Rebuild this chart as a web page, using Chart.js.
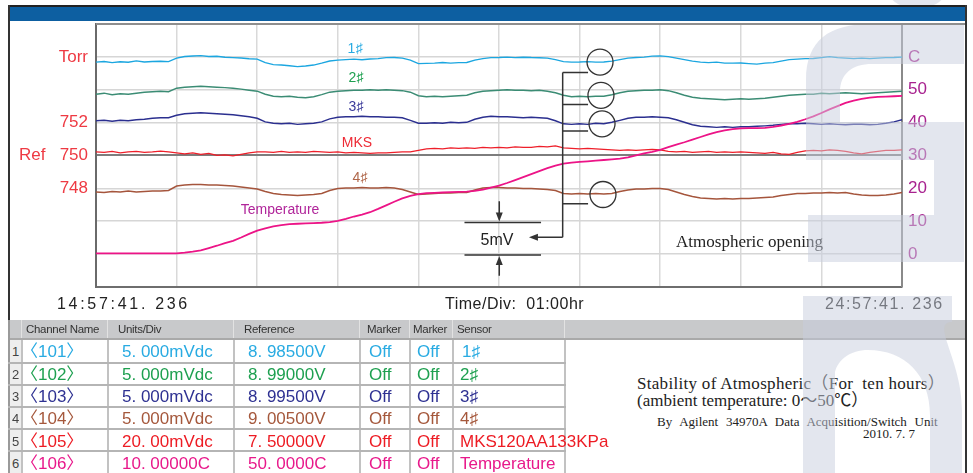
<!DOCTYPE html>
<html>
<head>
<meta charset="utf-8">
<script src="https://cdn.jsdelivr.net/npm/chart.js@4/dist/chart.umd.min.js"></script>
<style>
  body { margin: 0; background: #fff; }
  #page { position: relative; width: 973px; height: 473px; overflow: hidden; background: #fff;
          font-family: "Liberation Sans", Arial, sans-serif; }
  #page div, #page span { position: absolute; white-space: pre; }
  canvas { position: absolute; left: 0; top: 0; }
  .ln { background: #333; }
  .stamp { font-size: 16px; color: #222; letter-spacing: 2.7px; line-height: 16px; }
  .hd { font-size: 11.5px; color: #333; line-height: 19px; top: 320px; letter-spacing: -0.3px; }
  .cell { font-size: 17px; line-height: 20px; font-family: "Liberation Sans", "Noto Sans CJK SC", sans-serif; }
  .rn { font-size: 13px; color: #444; line-height: 20px; }
  .ttl { font-family: "Liberation Serif", "Noto Sans CJK SC", serif; color: #222; }
</style>
</head>
<body>
<div id="page">
  <canvas id="rec" width="973" height="305"></canvas>

  <div class="stamp" style="left:57px;top:296px">14:57:41. 236</div>
  <div class="stamp" style="left:445px;top:296px;letter-spacing:0.5px">Time/Div:  01:00hr</div>
  <div class="stamp" style="left:825px;top:296px;letter-spacing:1.6px">24:57:41. 236</div>

  <div id="table"></div>

  <div class="ttl" style="left:637px;top:374px;font-size:17px;line-height:20px;letter-spacing:0.3px">Stability of Atmospheric（For  ten hours）</div>
  <div class="ttl" style="left:637px;top:391px;font-size:17px;line-height:20px">(ambient temperature: 0～50℃）</div>
  <div class="ttl" style="left:657px;top:414px;font-size:13px;line-height:16px;word-spacing:4.5px">By Agilent 34970A Data Acquisition/Switch Unit</div>
  <div class="ttl" style="left:863px;top:426px;font-size:13px;line-height:16px">2010. 7. 7</div>

  <svg width="973" height="473" style="position:absolute;left:0;top:0;pointer-events:none">
    <g fill="rgba(200,205,222,0.5)">
      <ellipse cx="917" cy="-6" rx="27" ry="14"/>
      <path d="M806 160 L806 80 C806 40 830 24 870 24 L964 24 L964 64 L872 64 C852 64 840 74 840 92 L840 122 L964 122 L964 262 L808 262 L808 215 L934 215 L934 160 Z"/>
      <path d="M803 473 L803 296 L952 296 L952 322 C930 322 962 360 962 410 L962 473 L930 473 L930 415 C930 375 905 350 868 350 C850 350 838 360 835 372 L835 473 Z"/>
    </g>
  </svg>

  <div class="ln" style="left:8px;top:5px;width:959px;height:2px;background:#222"></div>
  <div style="left:8px;top:7px;width:959px;height:14px;background:#0d5fa1"></div>
  <div style="left:96px;top:23px;width:869px;height:2px;background:#8e8e8e"></div>
  <div class="ln" style="left:8px;top:5px;width:2px;height:315px"></div>
  <div class="ln" style="left:965px;top:5px;width:2px;height:468px"></div>
</div>

<script>
// time axis, minutes from 14:57:41
var times = [
  0, 6, 12, 18, 24, 30, 36, 42, 48, 54, 60, 66, 72, 78, 84, 90, 96, 102, 108, 114,
  120, 126, 132, 138, 144, 150, 156, 162, 168, 174, 180, 186, 192, 198, 204, 210, 216, 222, 228, 234,
  240, 246, 252, 258, 264, 270, 276, 282, 288, 294, 300, 306, 312, 318, 324, 330, 336, 342, 348, 354,
  360, 366, 372, 378, 384, 390, 396, 402, 408, 414, 420, 426, 432, 438, 444, 450, 456, 462, 468, 474,
  480, 486, 492, 498, 504, 510, 516, 522, 528, 534, 540, 546, 552, 558, 564, 570, 576, 582, 588, 594,
  600
];

// sensor readings, mV away from 9.000 V
var ch101 = [
  -0.80, -0.70, -0.88, -0.75, -0.82, -0.62, -0.78, -0.70, -0.66, -0.72,
  -0.20, 0.05, 0.12, 0.18, 0.06, 0.10, -0.05, -0.12, -0.18, -0.28,
  -0.35, -0.88, -1.18, -1.25, -1.35, -1.48, -1.40, -1.25, -0.96, -0.64,
  -0.50, -0.42, -0.35, -0.44, -0.33, -0.27, -0.12, -0.10, -0.19, -0.50,
  -1.03, -1.00, -0.95, -0.86, -0.96, -0.88, -0.85, -0.50, -0.27, -0.12,
  -0.10, -0.04, -0.12, -0.05, -0.11, -0.13, -0.19, -0.42, -0.73, -0.80,
  -0.78, -0.73, -0.81, -0.79, -0.65, -0.42, -0.19, -0.11, -0.04, 0.11,
  0.15, 0.04, -0.19, -0.42, -0.65, -0.80, -0.88, -0.80, -0.95, -0.96,
  -0.94, -1.03, -1.11, -0.95, -0.88, -0.65, -0.42, -0.34, -0.27, -0.26,
  -0.11, 0.04, -0.12, -0.19, -0.27, -0.19, -0.27, -0.19, -0.12, -0.11,
  -0.04
];
var ch102 = [
  -0.69, -0.53, -0.76, -0.61, -0.69, -0.53, -0.38, -0.31, -0.23, -0.31,
  0.23, 0.38, 0.46, 0.53, 0.46, 0.38, 0.31, 0.23, 0.08, -0.08,
  -0.23, -0.69, -0.99, -1.07, -0.99, -1.15, -1.22, -1.07, -0.76, -0.38,
  -0.23, -0.15, -0.08, -0.08, 0.00, -0.08, 0.00, -0.08, -0.15, -0.38,
  -0.92, -1.07, -0.99, -1.07, -0.99, -0.92, -0.84, -0.46, -0.23, -0.15,
  -0.08, 0.00, -0.08, -0.08, -0.15, -0.08, -0.23, -0.46, -0.84, -1.07,
  -0.99, -1.07, -0.99, -0.99, -0.76, -0.46, -0.23, -0.15, -0.08, -0.08,
  0.00, -0.15, -0.46, -0.84, -1.15, -1.30, -1.37, -1.45, -1.53, -1.45,
  -1.37, -1.45, -1.37, -1.30, -1.15, -0.99, -0.84, -0.76, -0.69, -0.69,
  -0.53, -0.61, -0.53, -0.46, -0.53, -0.61, -0.53, -0.46, -0.38, -0.31,
  -0.23
];
var ch103 = [
  0.27, 0.34, 0.19, 0.34, 0.27, 0.42, 0.50, 0.65, 0.73, 0.73,
  1.11, 1.34, 1.41, 1.49, 1.41, 1.34, 1.26, 1.18, 1.03, 0.88,
  0.65, 0.11, -0.11, -0.19, -0.11, -0.27, -0.19, -0.11, 0.11, 0.57,
  0.80, 0.88, 0.88, 0.95, 0.88, 0.88, 0.80, 0.80, 0.73, 0.34,
  -0.11, -0.11, -0.04, -0.11, 0.04, -0.04, 0.04, 0.50, 0.80, 0.95,
  0.88, 0.88, 0.80, 0.73, 0.80, 0.73, 0.65, 0.27, -0.19, -0.27,
  -0.19, -0.27, -0.11, -0.19, 0.04, 0.34, 0.65, 0.80, 0.80, 0.88,
  0.80, 0.73, 0.42, 0.04, -0.34, -0.57, -0.65, -0.73, -0.65, -0.73,
  -0.65, -0.65, -0.57, -0.50, -0.42, -0.27, -0.19, -0.19, -0.11, -0.19,
  -0.27, -0.19, -0.27, -0.34, -0.27, -0.27, -0.34, -0.27, -0.11, 0.11,
  0.42
];
var ch104 = [
  -0.57, -0.65, -0.50, -0.57, -0.42, -0.57, -0.50, -0.42, -0.42, -0.34,
  0.34, 0.50, 0.57, 0.57, 0.50, 0.50, 0.42, 0.34, 0.19, 0.04,
  -0.11, -0.50, -0.80, -0.95, -1.03, -1.11, -1.03, -0.95, -0.80, -0.34,
  -0.04, 0.04, 0.04, 0.11, 0.04, 0.04, 0.11, 0.04, -0.19, -0.57,
  -0.95, -0.88, -0.80, -0.73, -0.73, -0.65, -0.65, -0.27, 0.04, 0.11,
  0.11, 0.04, 0.04, -0.04, -0.04, -0.11, -0.19, -0.34, -0.80, -0.88,
  -0.80, -0.88, -0.80, -0.88, -0.80, -0.50, -0.27, -0.11, -0.11, -0.04,
  -0.04, -0.19, -0.57, -0.95, -1.26, -1.49, -1.56, -1.64, -1.56, -1.64,
  -1.56, -1.56, -1.49, -1.41, -1.34, -1.11, -0.95, -0.80, -0.80, -0.73,
  -0.73, -0.65, -0.73, -0.65, -0.88, -1.03, -1.11, -1.11, -1.03, -0.88,
  -0.65
];
// MKS gauge, Torr
var ch105 = [
  750.21, 750.18, 750.24, 750.15, 750.21, 750.24, 750.18, 750.21, 750.26, 750.21,
  750.15, 750.09, 750.15, 750.06, 750.12, 750.00, 750.03, 749.97, 750.06, 750.15,
  750.21, 750.21, 750.18, 750.24, 750.18, 750.21, 750.18, 750.24, 750.21, 750.18,
  750.21, 750.15, 750.18, 750.15, 750.12, 750.15, 750.15, 750.18, 750.21, 750.21,
  750.31, 750.40, 750.43, 750.40, 750.46, 750.43, 750.46, 750.43, 750.49, 750.46,
  750.49, 750.46, 750.52, 750.49, 750.49, 750.55, 750.52, 750.58, 750.46, 750.43,
  750.40, 750.43, 750.40, 750.37, 750.34, 750.31, 750.34, 750.31, 750.34, 750.37,
  750.34, 750.24, 750.21, 750.24, 750.18, 750.21, 750.24, 750.18, 750.21, 750.18,
  750.21, 750.18, 750.15, 750.12, 750.18, 750.09, 750.06, 750.18, 750.27, 750.31,
  750.27, 750.34, 750.31, 750.24, 750.15, 750.09, 750.18, 750.24, 750.31, 750.31,
  750.34
];
// ambient temperature, C
var ch106 = [
  0.2, 0.2, 0.2, 0.2, 0.2, 0.2, 0.2, 0.2, 0.2, 0.2,
  0.2, 0.4, 0.7, 1.1, 1.8, 2.5, 3.3, 4.0, 5.0, 6.1,
  7.1, 7.8, 8.4, 8.8, 9.1, 9.2, 9.3, 9.4, 9.5, 9.7,
  10.1, 10.7, 11.4, 12.0, 12.7, 13.7, 14.8, 15.9, 16.9, 17.7,
  18.2, 18.5, 18.6, 18.7, 18.8, 18.9, 19.0, 19.2, 19.6, 20.2,
  20.8, 21.6, 22.5, 23.4, 24.3, 25.2, 26.1, 26.9, 27.5, 27.8,
  28.0, 28.2, 28.4, 28.6, 28.8, 29.0, 29.4, 30.0, 30.6, 31.1,
  31.7, 32.5, 33.3, 34.0, 34.8, 35.6, 36.4, 37.1, 37.6, 38.0,
  38.2, 38.3, 38.3, 38.4, 38.7, 39.1, 39.6, 40.2, 41.0, 41.9,
  42.9, 44.0, 45.0, 46.0, 46.7, 47.2, 47.6, 47.8, 47.9, 48.0,
  48.1
];

var torrLabels = { 756: "Torr", 752: "752", 750: "Ref   750", 748: "748" };

// channel table
var chNames = ["〈101〉", "〈102〉", "〈103〉", "〈104〉", "〈105〉", "〈106〉"];
var unitsDiv = ["5. 000mVdc", "5. 000mVdc", "5. 000mVdc", "5. 000mVdc", "20. 00mVdc", "10. 00000C"];
var refs = ["8. 98500V", "8. 99000V", "8. 99500V", "9. 00500V", "7. 50000V", "50. 0000C"];
var sensors = ["1♯", "2♯", "3♯", "4♯", "MKS120AA133KPa", "Temperature"];
var rowColors = ["#29abe2", "#1ea050", "#2e3192", "#a5583c", "#ed1c24", "#e8198b"];

// in-plot tags (minutes, Torr)
var tagText = ["1♯", "2♯", "3♯", "MKS", "4♯", "Temperature"];
var tagTime = [192.8, 193.5, 193.5, 194.3, 196.5, 137.0];
var tagTorr = [756.44, 754.70, 752.93, 750.73, 748.63, 746.64];
var tagColor = ["#29abe2", "#1ea050", "#3a3a9a", "#ee2a35", "#b0674a", "#b0259a"];

function pts(arr) {
  return times.map(function (t, i) { return { x: t, y: arr[i] }; });
}

// table
var tb = document.getElementById("table");
function put(html, style, cls) {
  var d = document.createElement("div");
  d.className = cls || "";
  d.setAttribute("style", style);
  d.textContent = html;
  tb.appendChild(d);
}
put("", "left:8px;top:320px;width:957px;height:18px;background:#c8c9cb;border-bottom:2px solid #a9a9a9");
[21, 107, 233, 359, 409, 452, 564].forEach(function (x) {
  put("", "left:" + x + "px;top:320px;width:1px;height:18px;background:#e2e2e2");
  put("", "left:" + x + "px;top:340px;width:2px;height:133px;background:#c2c2c2");
});
put("", "left:8px;top:320px;width:2px;height:153px;background:#9a9a9a");
put("", "left:10px;top:340px;width:11px;height:133px;background:#eeeeee");
[362, 384, 406, 428, 450].forEach(function (y) {
  put("", "left:8px;top:" + y + "px;width:558px;height:2px;background:#b5b5b5");
});
var hx = [26, 118, 244, 367, 413, 457];
["Channel Name", "Units/Div", "Reference", "Marker", "Marker", "Sensor"].forEach(function (h, i) {
  put(h, "left:" + hx[i] + "px", "hd");
});
var rowMid = [352, 374.5, 396.5, 419, 441.5, 463.5];
chNames.forEach(function (n, i) {
  var top = "top:" + (rowMid[i] - 10) + "px;";
  var col = "color:" + rowColors[i] + ";";
  put(String(i + 1), top + "left:12px", "rn");
  put(n, top + col + "left:21px", "cell");
  put(unitsDiv[i], top + col + "left:122px", "cell");
  put(refs[i], top + col + "left:248px", "cell");
  put("Off", top + col + "left:369px", "cell");
  put("Off", top + col + "left:417px", "cell");
  put(sensors[i], top + col + "left:" + (i === 0 ? 462 : 460) + "px", "cell");
});

var overlay = {
  id: "overlay",
  afterDatasetsDraw: function (chart) {
    var ctx = chart.ctx, x = chart.scales.x, yT = chart.scales.yT;
    function px(t) { return x.getPixelForValue(t); }
    function py(v) { return yT.getPixelForValue(v); }
    ctx.save();
    ctx.textAlign = "center";
    ctx.textBaseline = "middle";
    ctx.font = '14px "Liberation Sans", "DejaVu Sans", sans-serif';
    tagText.forEach(function (s, i) {
      ctx.fillStyle = tagColor[i];
      ctx.fillText(s, px(tagTime[i]), py(tagTorr[i]));
    });

    ctx.strokeStyle = "#333";
    ctx.fillStyle = "#333";
    ctx.lineWidth = 1.3;
    // marker circles
    [[375.2, 755.68], [375.9, 753.66], [376.7, 751.92], [377.4, 747.62]].forEach(function (c) {
      ctx.beginPath();
      ctx.arc(px(c[0]), py(c[1]), 13, 0, Math.PI * 2);
      ctx.stroke();
    });
    // bracket to the circles
    ctx.lineWidth = 1.5;
    var bx = px(347.4);
    ctx.beginPath();
    ctx.moveTo(bx, py(755.05));
    ctx.lineTo(bx, py(745.01));
    [755.05, 753.10, 751.48, 747.05].forEach(function (v) {
      ctx.moveTo(bx, py(v));
      ctx.lineTo(px(366.3), py(v));
    });
    ctx.moveTo(bx, py(745.01));
    ctx.lineTo(px(322.3) + 8, py(745.01));
    ctx.stroke();
    function head(xt, yt, dx, dy) {
      ctx.beginPath();
      ctx.moveTo(xt, yt);
      ctx.lineTo(xt + dx * 9 - dy * 3.5, yt + dy * 9 - dx * 3.5);
      ctx.lineTo(xt + dx * 9 + dy * 3.5, yt + dy * 9 + dx * 3.5);
      ctx.closePath();
      ctx.fill();
    }
    head(px(322.3), py(745.01), 1, 0);

    // 5 mV gauge
    var ax = px(300.2);
    ctx.beginPath();
    ctx.moveTo(px(274.3), py(745.91)); ctx.lineTo(px(331.3), py(745.91));
    ctx.moveTo(px(274.3), py(743.94)); ctx.lineTo(px(331.3), py(743.94));
    ctx.moveTo(ax, py(747.21)); ctx.lineTo(ax, py(745.91) - 6);
    ctx.moveTo(ax, py(742.67)); ctx.lineTo(ax, py(743.94) + 6);
    ctx.stroke();
    head(ax, py(745.91) - 1, 0, -1);
    head(ax, py(743.94) + 1, 0, 1);
    ctx.fillStyle = "#222";
    ctx.font = '16px "Liberation Sans", sans-serif';
    ctx.fillText("5mV", px(298.5), py(744.84));

    ctx.textAlign = "left";
    ctx.font = '17px "Liberation Serif", serif';
    ctx.fillText("Atmospheric opening", px(431.8), py(744.72));
    ctx.restore();
  }
};

function line(arr, axis, color, w) {
  return { data: pts(arr), yAxisID: axis, borderColor: color, borderWidth: w,
           pointRadius: 0, tension: 0, fill: false };
}

new Chart(document.getElementById("rec"), {
  type: "line",
  data: {
    datasets: [
      line(ch106, "yC", "#ec1487", 1.8),
      line(ch105, "yT", "#ee1f2a", 1.3),
      line(ch101, "y1", "#1ba6e0", 1.4),
      line(ch102, "y2", "#3b8c74", 1.4),
      line(ch103, "y3", "#2b2f8f", 1.4),
      line(ch104, "y4", "#a5553c", 1.4)
    ]
  },
  options: {
    responsive: false,
    devicePixelRatio: 1,
    animation: false,
    layout: { padding: { top: 24, left: 0, right: 0, bottom: 0 }, autoPadding: false },
    plugins: { legend: { display: false }, tooltip: { enabled: false } },
    scales: {
      x: {
        type: "linear", min: 0, max: 600,
        ticks: { display: false, stepSize: 60 },
        grid: {
          drawTicks: false, lineWidth: 1.5,
          color: function (c) { return (c.tick && (c.tick.value === 0 || c.tick.value === 600)) ? "rgba(0,0,0,0)" : "#d9d9d9"; }
        },
        border: { color: "#6e6e6e", width: 2 },
        afterFit: function (s) { s.height = 9; }
      },
      yT: {
        position: "left", min: 742, max: 758,
        ticks: {
          stepSize: 2, autoSkip: false, padding: 8, color: "#ee3a43",
          font: { family: '"Liberation Sans", Arial, sans-serif', size: 17 },
          callback: function (v) { return torrLabels[Math.round(v)] || ""; }
        },
        grid: {
          drawTicks: false,
          color: function (c) {
            var v = c.tick ? Math.round(c.tick.value) : 0;
            if (v === 750) return "#7d7d7d";
            if (v === 758) return "#8c8c8c";
            if (v === 742) return "rgba(0,0,0,0)";
            return "#d6d6d6";
          },
          lineWidth: function (c) {
            var v = c.tick ? Math.round(c.tick.value) : 0;
            return (v === 750 || v === 758) ? 2 : 1.5;
          }
        },
        border: { color: "#6a6a6a", width: 2 },
        afterFit: function (s) { s.width = 96; }
      },
      yC: {
        position: "right", min: -10, max: 70,
        ticks: {
          stepSize: 10, autoSkip: false, padding: 6, color: "#a8228f",
          font: { family: '"Liberation Sans", Arial, sans-serif', size: 17 },
          callback: function (v) {
            v = Math.round(v);
            if (v === 60) return "C";
            return (v >= 0 && v <= 50) ? String(v) : "";
          }
        },
        grid: { display: false, drawTicks: false },
        border: { color: "#8a8a8a", width: 2 },
        afterFit: function (s) { s.width = 71; }
      },
      y1: { display: false, min: -35, max: 5 },
      y2: { display: false, min: -30, max: 10 },
      y3: { display: false, min: -25, max: 15 },
      y4: { display: false, min: -15, max: 25 }
    }
  },
  plugins: [overlay]
});
</script>
</body>
</html>
